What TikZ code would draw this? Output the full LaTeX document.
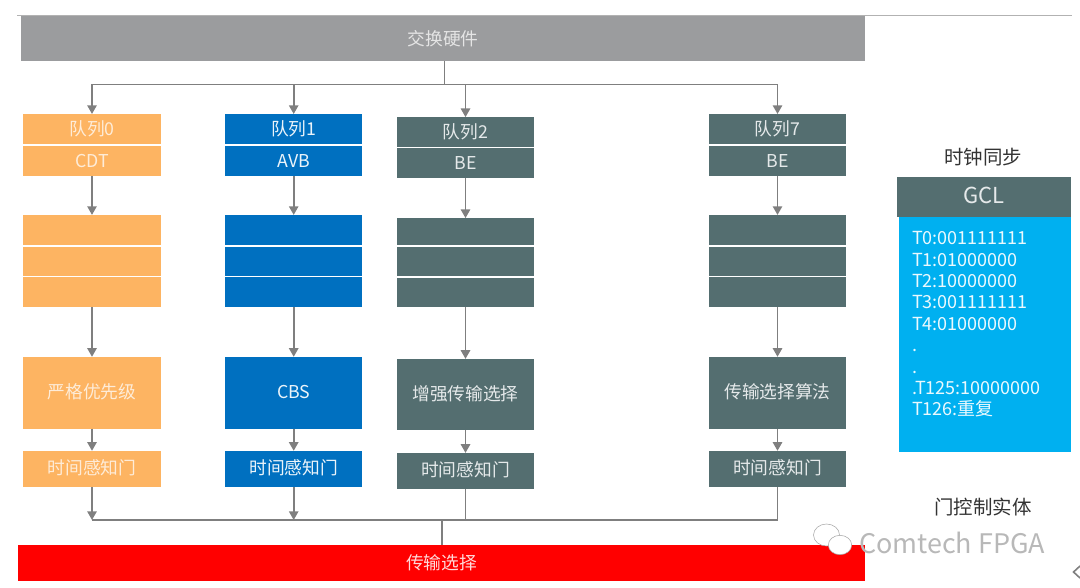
\documentclass[tikz,border=0pt]{standalone}
\usepackage{fontspec}
\setmainfont{Noto Sans CJK SC}
\usetikzlibrary{positioning}
\usetikzlibrary{arrows.meta}
\usetikzlibrary{shapes.geometric}

\definecolor{cdtcolor}{HTML}{FDB462}
\definecolor{avbcolor}{HTML}{0070C0}
\definecolor{becolor}{HTML}{546E70}
\definecolor{skycolor}{HTML}{00B0F0}
\definecolor{hwcolor}{HTML}{9B9C9E}
\definecolor{linecolor}{HTML}{7F7F7F}

\begin{document}
\begin{tikzpicture}
		[x=0.75pt, y=-0.75pt,
		every node/.style={outer sep=0pt},
		cell/.style={minimum width=103pt, inner sep=0pt, text height=10.5pt, text depth=1.5pt, font=\fontsize{13.3pt}{16pt}\selectfont},
		cdt/.style={cell, fill=cdtcolor, text=cdtcolor!25!white},
		avb/.style={cell, fill=avbcolor, text=avbcolor!8!white},
		be/.style={cell, fill=becolor, text=becolor!15!white},
		half/.style={minimum height=22.8pt},
		slot/.style={minimum height=22pt},
		selector/.style={minimum height=53.8pt},
		gate/.style={minimum height=27pt},
		bar/.style={inner sep=0pt, font=\fontsize{13.3pt}{16pt}\selectfont},
		title/.style={inner sep=0pt, text=black!80, font=\fontsize{14.6pt}{18pt}\selectfont},
		bubble/.style={ellipse, inner sep=0pt, draw=black!35, line width=0.4pt, fill=white},
		flow/.style={draw=linecolor, line width=1.3pt, -{Triangle[width=7pt, length=6.5pt]}},
		wire/.style={draw=linecolor, line width=1.3pt}]
		\useasboundingbox (0,0) rectangle (1080,588);

		\coordinate (edgeleft) at (17,15.7);
		\coordinate (edgeright) at (1072,15.7);
		\draw[black!30, line width=0.8pt] (edgeleft) -- (edgeright);

		\node[bar, fill=hwcolor, text=white!90!black, minimum width=633pt, minimum height=33.8pt] (hw) at (443,38.7) {交换硬件};
		\node[bar, fill=red, text=white!85!red, minimum width=635pt, minimum height=27pt] (out) at (441.5,563) {传输选择};

		% queue 0
		\node[cdt, half] (q0) at (92,129.2) {队列0};
		\node[cdt, half, below=1.1pt of q0] (t0) {CDT};
		\node[cdt, slot, minimum height=22.7pt, below=29pt of t0] (b0a) {};
		\node[cdt, slot, below=1.1pt of b0a] (b0b) {};
		\node[cdt, slot, below=1.1pt of b0b] (b0c) {};
		\node[cdt, selector, below=37.5pt of b0c] (s0) {严格优先级};
		\node[cdt, gate, below=16.7pt of s0] (g0) {时间感知门};

		% queue 1
		\node[avb, half] (q1) at (293.7,129.2) {队列1};
		\node[avb, half, below=1.1pt of q1] (t1) {AVB};
		\node[avb, slot, minimum height=22.7pt, below=29pt of t1] (b1a) {};
		\node[avb, slot, below=1.1pt of b1a] (b1b) {};
		\node[avb, slot, below=1.1pt of b1b] (b1c) {};
		\node[avb, selector, below=37.5pt of b1c] (s1) {CBS};
		\node[avb, gate, below=16.7pt of s1] (g1) {时间感知门};

		% queue 2
		\node[be, half, minimum height=22.3pt] (q2) at (465.5,132) {队列2};
		\node[be, half, minimum height=22.3pt, below=1.1pt of q2] (t2) {BE};
		\node[be, slot, minimum height=20.5pt, below=30pt of t2] (b2a) {};
		\node[be, slot, below=1.1pt of b2a] (b2b) {};
		\node[be, slot, below=1.1pt of b2b] (b2c) {};
		\node[be, selector, minimum height=53.5pt, below=38.9pt of b2c] (s2) {增强传输选择};
		\node[be, gate, below=17pt of s2] (g2) {时间感知门};

		% queue 7
		\node[be, half] (q7) at (777.5,129.2) {队列7};
		\node[be, half, below=1.1pt of q7] (t7) {BE};
		\node[be, slot, minimum height=22.7pt, below=29pt of t7] (b7a) {};
		\node[be, slot, below=1.1pt of b7a] (b7b) {};
		\node[be, slot, below=1.1pt of b7b] (b7c) {};
		\node[be, selector, below=37.5pt of b7c] (s7) {传输选择算法};
		\node[be, gate, below=16.7pt of s7] (g7) {时间感知门};

		% gate control
		\node[title] (clock) at (983,156.7) {时钟同步};
		\node[be, minimum width=130.5pt, minimum height=30pt, font=\fontsize{16.5pt}{20pt}\selectfont] (gcl) at (984,197) {GCL};
		\node[minimum width=129pt, minimum height=176pt, inner sep=0pt, fill=skycolor, below=0pt of gcl.south east, anchor=north east] (list) {};
		\node[inner sep=0pt, anchor=north west, align=left, text=white!92!skycolor, font=\fontsize{13.5pt}{16.05pt}\selectfont] (times) at (912,231.5)
			{T0:001111111\\T1:01000000\\T2:10000000\\T3:001111111\\T4:01000000\\.\\.\\.T125:10000000\\T126:重复};
		\node[title] (entity) at (983,506.7) {门控制实体};

		% connectors
		\coordinate (branch) at (444.5,84.5);
		\coordinate (merge) at (442,520);
		\draw[wire] (branch |- hw.south) -- (branch);
		\draw[wire] (branch) -- (branch -| q7);
		\draw[flow] (branch) -| (q0);
		\draw[flow] (q1 |- branch) -- (q1);
		\draw[flow] (q2 |- branch) -- (q2);
		\draw[flow] (q7 |- branch) -- (q7);

		\draw[flow] (t0) to (b0a);
		\draw[flow] (b0c) to (s0);
		\draw[flow] (s0) to (g0);
		\draw[flow] (t1) to (b1a);
		\draw[flow] (b1c) to (s1);
		\draw[flow] (s1) to (g1);
		\draw[flow] (t2) to (b2a);
		\draw[flow] (b2c) to (s2);
		\draw[flow] (s2) to (g2);
		\draw[flow] (t7) to (b7a);
		\draw[flow] (b7c) to (s7);
		\draw[flow] (s7) to (g7);

		\draw[flow] (g0) -- (g0 |- merge);
		\draw[flow] (g1) -- (g1 |- merge);
		\draw[wire] (g2) -- (g2 |- merge);
		\draw[wire] (g7) -- (g7 |- merge);
		\draw[wire] (g0 |- merge) -- (g7 |- merge);
		\draw[wire] (merge) -- (merge |- out.north);

		% watermark
		\node[bubble, minimum width=19.5pt, minimum height=16.5pt] (bigbubble) at (826.5,535) {};
		\node[bubble, minimum width=17.5pt, minimum height=14.5pt] (smallbubble) at (840,545) {};
		\node[inner sep=0pt, anchor=west, text=white!72!black, font=\fontsize{20.2pt}{24pt}\selectfont] (mark) at (859,543) {Comtech FPGA};

		% cut off at the edge
		\coordinate (chevtop) at (1080,566);
		\coordinate (chevtip) at (1073.5,572);
		\coordinate (chevend) at (1080,578);
		\draw[black!50, line width=1.2pt] (chevtop) -- (chevtip) -- (chevend);
	\end{tikzpicture}
\end{document}
